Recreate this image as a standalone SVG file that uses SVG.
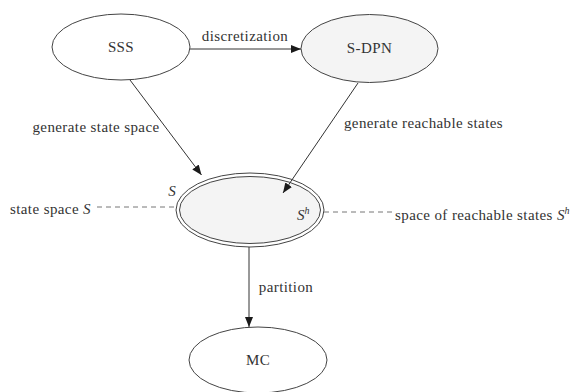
<svg xmlns="http://www.w3.org/2000/svg" width="578" height="392" viewBox="0 0 578 392">
  <defs>
    <marker id="arrow" viewBox="0 0 10 10" refX="10" refY="5" markerWidth="10" markerHeight="10" markerUnits="userSpaceOnUse" orient="auto">
      <path d="M0,1 L10,5 L0,9 Z" fill="#1a1a1a"/>
    </marker>
  </defs>
  <style>
    text { font-family: "Liberation Serif", "DejaVu Serif", serif; font-size: 15px; letter-spacing: 0.4px; fill: #333; }
    .math { font-style: italic; letter-spacing: 0; }
    .node { fill: #fff; stroke: #444; stroke-width: 1; }
    .grey { fill: #f4f4f4; }
    .edge { fill: none; stroke: #333; stroke-width: 1; }
    .dash { fill: none; stroke: #777; stroke-width: 1; stroke-dasharray: 5 4; }
  </style>
  <rect width="578" height="392" fill="#fff"/>

  <!-- nodes -->
  <g id="sss">
    <ellipse class="node" cx="121" cy="47" rx="69" ry="33"/>
    <text x="121" y="52" text-anchor="middle">SSS</text>
  </g>
  <g id="sdpn">
    <ellipse class="node grey" cx="369.5" cy="48.5" rx="68.5" ry="34"/>
    <text x="369.5" y="53" text-anchor="middle">S-DPN</text>
  </g>
  <g id="statespace">
    <ellipse class="node" cx="250" cy="210" rx="74" ry="37"/>
    <ellipse class="node grey" cx="250" cy="210" rx="70.5" ry="33.5"/>
    <text class="math" x="172" y="196" text-anchor="middle">S</text>
    <text class="math" x="297" y="220">S<tspan font-size="10" dy="-6">h</tspan></text>
  </g>
  <g id="mc">
    <ellipse class="node" cx="258" cy="360" rx="69" ry="33"/>
    <text x="258" y="365" text-anchor="middle">MC</text>
  </g>

  <!-- connectors -->
  <g id="connectors">
    <line class="edge" x1="190" y1="49" x2="301" y2="49" marker-end="url(#arrow)"/>
    <text x="245" y="41" text-anchor="middle">discretization</text>

    <line class="edge" x1="130" y1="80" x2="201.5" y2="175" marker-end="url(#arrow)"/>
    <text x="96" y="132" text-anchor="middle">generate state space</text>

    <line class="edge" x1="358" y1="83" x2="283" y2="193" marker-end="url(#arrow)"/>
    <text x="423.5" y="128" text-anchor="middle">generate reachable states</text>

    <line class="edge" x1="249" y1="247" x2="249" y2="327" marker-end="url(#arrow)"/>
    <text x="286" y="292" text-anchor="middle">partition</text>

    <line class="dash" x1="97" y1="207" x2="176" y2="207"/>
    <line class="dash" x1="324" y1="212" x2="393" y2="212"/>
  </g>

  <!-- annotations -->
  <g id="labels">
    <text x="10" y="214">state space <tspan class="math">S</tspan></text>
    <text x="395" y="220">space of reachable states <tspan class="math">S</tspan><tspan class="math" font-size="10" dy="-6">h</tspan></text>
  </g>
</svg>
